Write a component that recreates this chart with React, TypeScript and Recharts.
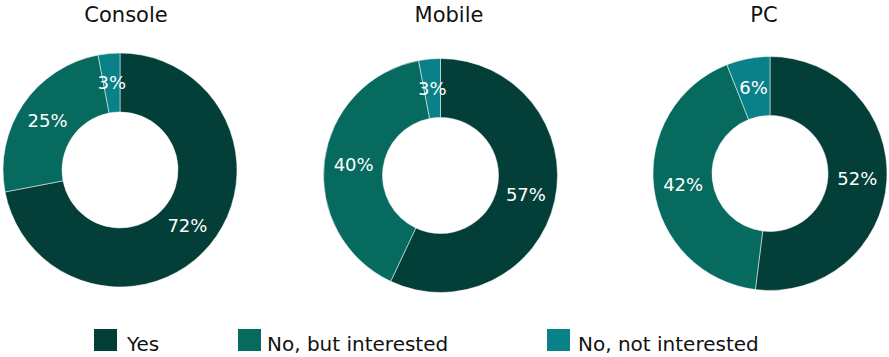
import React from "react";
import { PieChart, Pie, Cell } from "recharts";

const categories = ["Yes", "No, but interested", "No, not interested"];
const platforms = ["Console", "Mobile", "PC"];
const consoleValues = [72, 25, 3];
const mobileValues = [57, 40, 3];
const pcValues = [52, 42, 6];
const colors = ["#033f38", "#066a5f", "#0a8088"];

const FONT = "'DejaVu Sans', sans-serif";

const toData = (vals: number[]) => categories.map((name, i) => ({ name, value: vals[i] }));

const RAD = Math.PI / 180;
const renderLabel = (props: any) => {
  const { cx, cy, midAngle, innerRadius, outerRadius, value } = props;
  const r = (innerRadius + outerRadius) / 2;
  const x = cx + r * Math.cos(-midAngle * RAD);
  const y = cy + r * Math.sin(-midAngle * RAD);
  return (
    <text x={x} y={y} fill="#ffffff" textAnchor="middle" dominantBaseline="central" fontSize={18} fontFamily={FONT}>
      {`${value}%`}
    </text>
  );
};

const pies = [
  { title: platforms[0], data: toData(consoleValues), cx: 115, cy: 165, titleX: 126 },
  { title: platforms[1], data: toData(mobileValues), cx: 435.5, cy: 170.5, titleX: 449 },
  { title: platforms[2], data: toData(pcValues), cx: 765, cy: 168.5, titleX: 764 },
];

const legendPos = [
  { sx: 94, tx: 127 },
  { sx: 238, tx: 267 },
  { sx: 547, tx: 578 },
];

export default function App() {
  return (
    <div style={{ position: "absolute", left: 0, top: 0, width: 889, height: 357, background: "#fff", fontFamily: FONT }}>
      <PieChart width={889} height={357} style={{ position: "absolute", left: 0, top: 0 }}>
        {pies.map((p) => (
          <Pie
            key={p.title}
            data={p.data}
            dataKey="value"
            nameKey="name"
            cx={p.cx}
            cy={p.cy}
            innerRadius={58}
            outerRadius={117}
            startAngle={90}
            endAngle={-270}
            stroke="#ffffff"
            strokeWidth={0.5}
            label={renderLabel}
            labelLine={false}
            isAnimationActive={false}
          >
            {p.data.map((d, i) => (
              <Cell key={i} fill={colors[i]} />
            ))}
          </Pie>
        ))}
      </PieChart>
      {pies.map((p) => (
        <div
          key={p.title}
          style={{ position: "absolute", left: p.titleX - 70, width: 140, top: 3, textAlign: "center", fontSize: 21, color: "#111", lineHeight: "24px" }}
        >
          {p.title}
        </div>
      ))}
      {categories.map((c, i) => (
        <React.Fragment key={c}>
          <div style={{ position: "absolute", left: legendPos[i].sx, top: 329, width: 23, height: 22, background: colors[i] }} />
          <div style={{ position: "absolute", left: legendPos[i].tx, top: 333, fontSize: 20, color: "#111", lineHeight: "22px", whiteSpace: "nowrap" }}>
            {c}
          </div>
        </React.Fragment>
      ))}
    </div>
  );
}
